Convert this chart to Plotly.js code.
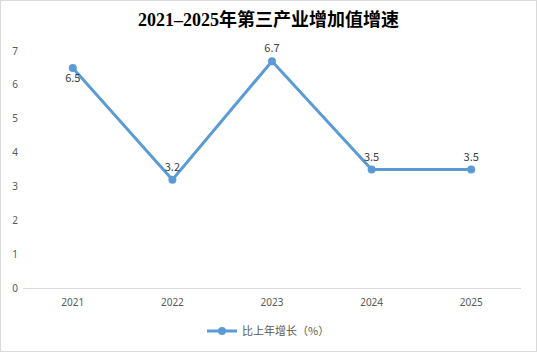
<!DOCTYPE html>
<html><head><meta charset="utf-8">
<script src="https://cdn.plot.ly/plotly-3.0.1.min.js"></script>
<style>
html,body{margin:0;padding:0;background:#fff;}
#wrap{position:relative;width:537px;height:352px;}
#chart{width:537px;height:352px;}
#border{position:absolute;left:0;top:0;width:537px;height:352px;box-sizing:border-box;border:1px solid #d9d9d9;pointer-events:none;}
</style></head>
<body>
<div id="wrap"><div id="chart"></div><div id="border"></div></div>
<script>
const years = ['2021','2022','2023','2024','2025'];
const growth = [6.5, 3.2, 6.7, 3.5, 3.5];
const labelPositions = ['bottom center','top center','top center','top center','top center'];
const seriesName = '比上年增长（%）';
const chartTitle = '2021–2025年第三产业增加值增速';

const trace = {
  x: years, y: growth, type: 'scatter', mode: 'lines+markers+text',
  name: seriesName,
  text: growth.map(v => v.toFixed(1)),
  textposition: labelPositions,
  textfont: {family: 'Noto Sans CJK SC, Noto Sans, sans-serif', size: 11, color: '#404040'},
  line: {color: '#5B9BD5', width: 3},
  marker: {color: '#5B9BD5', size: 8},
  cliponaxis: false
};
const layout = {
  width: 537, height: 352,
  margin: {l: 23, r: 16, t: 51, b: 64, autoexpand: false},
  paper_bgcolor: '#fff', plot_bgcolor: '#fff',
  title: {text: '<b>' + chartTitle + '</b>', x: 0.5, xanchor: 'center', y: 0.945, yanchor: 'middle',
    font: {family: 'Times New Roman, Liberation Serif, Noto Sans CJK SC, serif', size: 18, color: '#000'}},
  xaxis: {type: 'category', range: [-0.5, 4.5], showgrid: false, zeroline: false,
    showline: true, linecolor: '#d9d9d9', linewidth: 1, ticks: '', ticklabelstandoff: 5,
    tickfont: {family: 'Noto Sans, sans-serif', size: 10, color: '#595959'}},
  yaxis: {range: [0, 7], dtick: 1, showgrid: false, zeroline: false, showline: false, ticks: '',
    ticklabelstandoff: 4,
    tickfont: {family: 'Noto Sans, sans-serif', size: 10, color: '#595959'}},
  showlegend: true,
  legend: {orientation: 'h', x: 0.5, xanchor: 'center', xref: 'container', y: 0.06, yanchor: 'middle', yref: 'container',
    font: {family: 'Noto Sans CJK SC, sans-serif', size: 11, color: '#595959'}}
};
Plotly.newPlot('chart', [trace], layout, {displayModeBar: false, staticPlot: true});
</script>
</body></html>
